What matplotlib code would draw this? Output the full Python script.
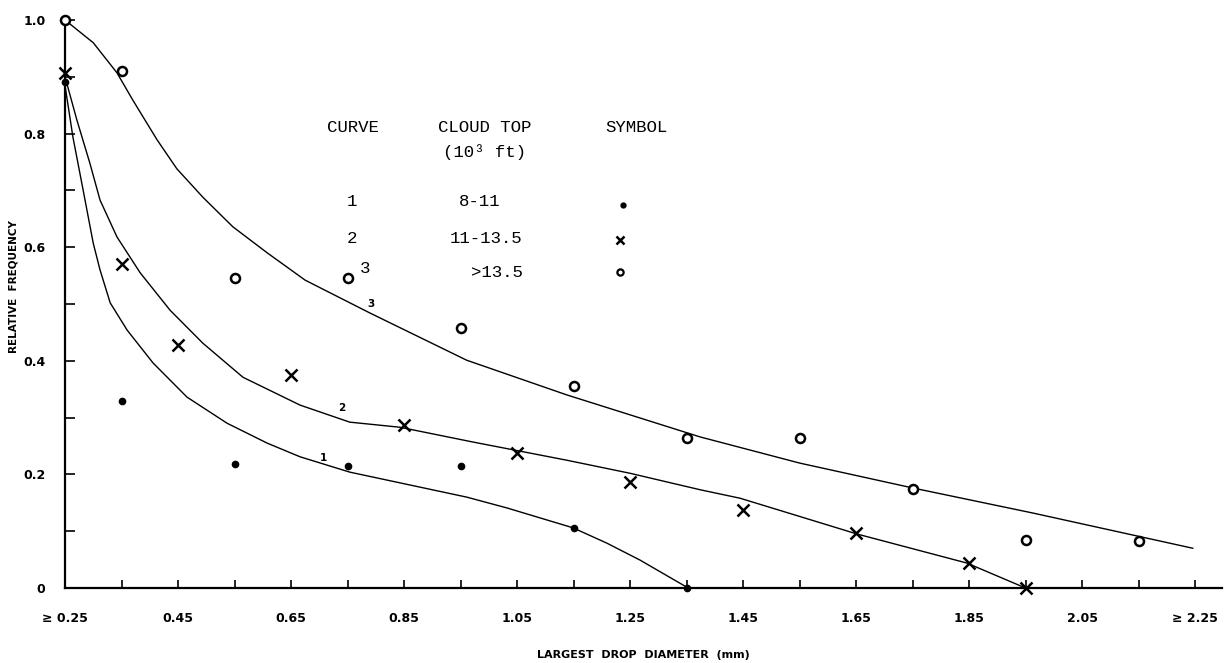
import numpy as np
import matplotlib
matplotlib.use("Agg")
import matplotlib.pyplot as plt

# observed frequencies at each drop-size class
dots_x = [0.25, 0.35, 0.55, 0.75, 0.95, 1.15, 1.35]
dots_y = [0.89, 0.33, 0.218, 0.215, 0.215, 0.106, 0.0]
cross_x = [0.25, 0.35, 0.45, 0.65, 0.85, 1.05, 1.25, 1.45, 1.65, 1.85, 1.95]
cross_y = [0.907, 0.57, 0.428, 0.375, 0.287, 0.238, 0.187, 0.137, 0.097, 0.044, 0.0]
circ_x = [0.25, 0.35, 0.55, 0.75, 0.95, 1.15, 1.35, 1.55, 1.75, 1.95, 2.15]
circ_y = [1.0, 0.91, 0.546, 0.546, 0.458, 0.356, 0.264, 0.264, 0.174, 0.085, 0.083]

# hand-fitted curves
c1_x = [0.25, 0.264, 0.282, 0.30, 0.312, 0.33, 0.36, 0.406, 0.466, 0.537,
        0.608, 0.666, 0.754, 0.961, 1.032, 1.149, 1.209, 1.268, 1.353]
c1_y = [0.885, 0.794, 0.701, 0.607, 0.56, 0.502, 0.454, 0.396, 0.336, 0.29,
        0.255, 0.231, 0.204, 0.16, 0.141, 0.106, 0.079, 0.049, 0.0]
c2_x = [0.25, 0.271, 0.294, 0.312, 0.342, 0.383, 0.436, 0.494, 0.565, 0.666,
        0.754, 0.843, 0.972, 1.138, 1.25, 1.374, 1.445, 1.652, 1.846, 1.95]
c2_y = [0.90, 0.824, 0.748, 0.683, 0.618, 0.555, 0.489, 0.431, 0.371, 0.322,
        0.292, 0.283, 0.257, 0.225, 0.202, 0.173, 0.158, 0.095, 0.044, 0.0]
c3_x = [0.25, 0.30, 0.342, 0.37, 0.413, 0.448, 0.494, 0.547, 0.608, 0.675,
        0.79, 0.961, 1.138, 1.374, 1.55, 1.751, 1.963, 2.246]
c3_y = [1.0, 0.96, 0.907, 0.859, 0.789, 0.738, 0.688, 0.636, 0.59, 0.542,
        0.484, 0.401, 0.34, 0.266, 0.22, 0.176, 0.132, 0.07]

xtick_pos = [0.25, 0.45, 0.65, 0.85, 1.05, 1.25, 1.45, 1.65, 1.85, 2.05, 2.25]
xtick_lab = ["\u2265 0.25", "0.45", "0.65", "0.85", "1.05", "1.25", "1.45",
             "1.65", "1.85", "2.05", "\u2265 2.25"]
ytick_pos = [0, 0.2, 0.4, 0.6, 0.8, 1.0]
ytick_lab = ["0", "0.2", "0.4", "0.6", "0.8", "1.0"]

fig = plt.figure(figsize=(12.26, 6.63), dpi=100)
ax = fig.add_axes([65 / 1226, 75 / 663, 1157 / 1226, 568 / 663])

for cx, cy in [(c1_x, c1_y), (c2_x, c2_y), (c3_x, c3_y)]:
    ax.plot(cx, cy, color="black", lw=1.0, solid_joinstyle="round")

ax.plot(dots_x, dots_y, "o", color="black", ms=4.5, clip_on=False, zorder=5)
ax.plot(cross_x, cross_y, "x", color="black", ms=8, mew=1.8, clip_on=False, zorder=5)
ax.plot(circ_x, circ_y, "o", mfc="white", mec="black", ms=6.5, mew=1.8,
        clip_on=False, zorder=5)

# curve numbers
ax.text(0.707, 0.229, "1", fontsize=7.5, fontweight="bold", ha="center", va="center")
ax.text(0.74, 0.317, "2", fontsize=7.5, fontweight="bold", ha="center", va="center")
ax.text(0.792, 0.50, "3", fontsize=7.5, fontweight="bold", ha="center", va="center")

ax.set_xlim(0.25, 0.25 + 1157 / 565)
ax.set_ylim(0, 1.0)
ax.spines["top"].set_visible(False)
ax.spines["right"].set_visible(False)
ax.spines["left"].set_linewidth(1.6)
ax.spines["bottom"].set_linewidth(1.6)

ax.set_xticks(xtick_pos)
ax.set_xticklabels(xtick_lab, fontsize=9, fontweight="bold")
ax.set_xticks(np.arange(0.35, 2.2, 0.2), minor=True)
ax.set_yticks(ytick_pos)
ax.set_yticklabels(ytick_lab, fontsize=9, fontweight="bold")
ax.set_yticks([0.1, 0.3, 0.5, 0.7, 0.9], minor=True)
ax.tick_params(axis="x", which="both", direction="in", length=6, width=1.2, pad=17)
ax.tick_params(axis="y", which="both", direction="in", length=7, width=1.2, pad=14)

ax.set_xlabel("LARGEST  DROP  DIAMETER  (mm)", fontsize=8, fontweight="bold", labelpad=18)
ax.set_ylabel("RELATIVE  FREQUENCY", fontsize=7.5, fontweight="bold", labelpad=8)
ax.yaxis.set_label_coords(-0.04, 0.53)

# key table
mono = dict(family="Liberation Mono", fontsize=12.5, ha="center", va="center",
            transform=ax.transAxes)
ax.text(0.249, 0.81, "CURVE", **mono)
ax.text(0.363, 0.81, "CLOUD TOP", **mono)
ax.text(0.363, 0.768, "(10\u00b3 ft)", **mono)
ax.text(0.4935, 0.81, "SYMBOL", **mono)
ax.text(0.248, 0.68, "1", **mono)
ax.text(0.358, 0.68, "8-11", **mono)
ax.text(0.248, 0.616, "2", **mono)
ax.text(0.364, 0.616, "11-13.5", **mono)
ax.text(0.259, 0.562, "3", **mono)
ax.text(0.373, 0.555, ">13.5", **mono)
ax.plot([0.482], [0.674], "o", color="black", ms=3.5, transform=ax.transAxes)
ax.plot([0.48], [0.613], "x", color="black", ms=6, mew=1.8, transform=ax.transAxes)
ax.plot([0.48], [0.556], "o", mfc="white", mec="black", ms=4.5, mew=1.6,
        transform=ax.transAxes)

fig.savefig("out.png", dpi=100)
